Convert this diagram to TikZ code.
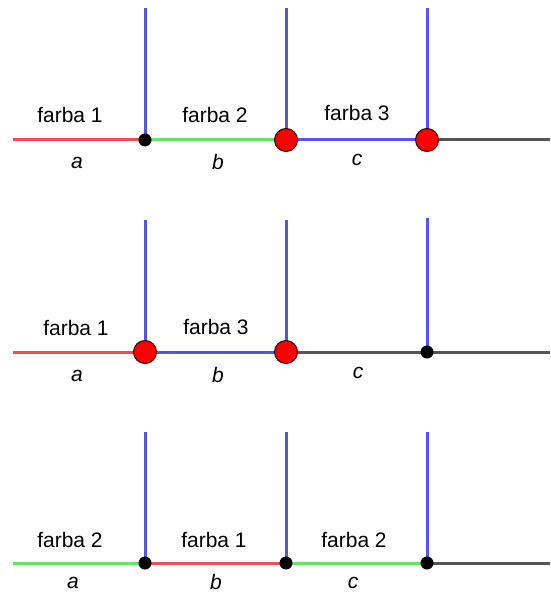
\documentclass[tikz,border=0pt]{standalone}
\usepackage{fontspec}
\setmainfont{Liberation Sans}
\definecolor{edgered}{RGB}{240,80,80}
\definecolor{edgegreen}{RGB}{100,230,100}
\definecolor{edgeblue}{RGB}{85,85,230}
\definecolor{edgegray}{RGB}{85,85,85}
\definecolor{vred}{RGB}{250,0,0}
\begin{document}
\begin{tikzpicture}[x=1pt,y=-1pt,
  edge/.style={line width=3pt},
  spine/.style={line width=3pt,draw=edgeblue},
  smalldot/.style={circle,fill=black,inner sep=0pt,minimum size=13pt},
  bigdot/.style={circle,fill=vred,draw=black!80!red,line width=1pt,inner sep=0pt,minimum size=23pt},
  clabel/.style={font=\fontsize{21}{24}\selectfont},
  elabel/.style={font=\fontsize{21}{24}\selectfont\itshape}]
\useasboundingbox (0,0) rectangle (550,593);

% ---- row 1 ----
\coordinate (s1) at (13,140);
\coordinate (e1) at (550,140);
\coordinate (t11) at (145,8);
\coordinate (t12) at (286,8);
\coordinate (t13) at (427,8);
\coordinate (p11) at (145,140);
\coordinate (p12) at (286,140);
\coordinate (p13) at (427,140);
\draw[spine] (t11) -- (p11);
\draw[spine] (t12) -- (p12);
\draw[spine] (t13) -- (p13);
\draw[edge,edgered] (s1) -- (p11);
\draw[edge,edgegreen] (p11) -- (p12);
\draw[edge,edgeblue] (p12) -- (p13);
\draw[edge,edgegray] (p13) -- (e1);
\node[smalldot] (v11) at (p11) {};
\node[bigdot] (v12) at (p12) {};
\node[bigdot] (v13) at (p13) {};
\node[clabel] (c11) at (70,115) {farba 1};
\node[clabel] (c12) at (215,115) {farba 2};
\node[clabel] (c13) at (357,113) {farba 3};
\node[elabel] (l11) at (77,163) {a};
\node[elabel] (l12) at (218,162) {b};
\node[elabel] (l13) at (357,160) {c};

% ---- row 2 ----
\coordinate (s2) at (13,352);
\coordinate (e2) at (550,352);
\coordinate (t21) at (145,220);
\coordinate (t22) at (286,220);
\coordinate (t23) at (427,218);
\coordinate (p21) at (145,352);
\coordinate (p22) at (286,352);
\coordinate (p23) at (427,352);
\draw[spine] (t21) -- (p21);
\draw[spine] (t22) -- (p22);
\draw[spine] (t23) -- (p23);
\draw[edge,edgered] (s2) -- (p21);
\draw[edge,edgeblue] (p21) -- (p22);
\draw[edge,edgegray] (p22) -- (e2);
\node[bigdot] (v21) at (p21) {};
\node[bigdot] (v22) at (p22) {};
\node[smalldot] (v23) at (p23) {};
\node[clabel] (c21) at (76,328) {farba 1};
\node[clabel] (c22) at (216,327) {farba 3};
\node[elabel] (l21) at (77,376) {a};
\node[elabel] (l22) at (218,375) {b};
\node[elabel] (l23) at (358,373) {c};

% ---- row 3 ----
\coordinate (s3) at (13,563);
\coordinate (e3) at (550,563);
\coordinate (t31) at (145,432);
\coordinate (t32) at (286,432);
\coordinate (t33) at (427,432);
\coordinate (p31) at (145,563);
\coordinate (p32) at (286,563);
\coordinate (p33) at (427,563);
\draw[spine] (t31) -- (p31);
\draw[spine] (t32) -- (p32);
\draw[spine] (t33) -- (p33);
\draw[edge,edgegreen] (s3) -- (p31);
\draw[edge,edgered] (p31) -- (p32);
\draw[edge,edgegreen] (p32) -- (p33);
\draw[edge,edgegray] (p33) -- (e3);
\node[smalldot] (v31) at (p31) {};
\node[smalldot] (v32) at (p32) {};
\node[smalldot] (v33) at (p33) {};
\node[clabel] (c31) at (70,540) {farba 2};
\node[clabel] (c32) at (214,540) {farba 1};
\node[clabel] (c33) at (354,540) {farba 2};
\node[elabel] (l31) at (73,583) {a};
\node[elabel] (l32) at (216,582) {b};
\node[elabel] (l33) at (353,583) {c};
\end{tikzpicture}
\end{document}
